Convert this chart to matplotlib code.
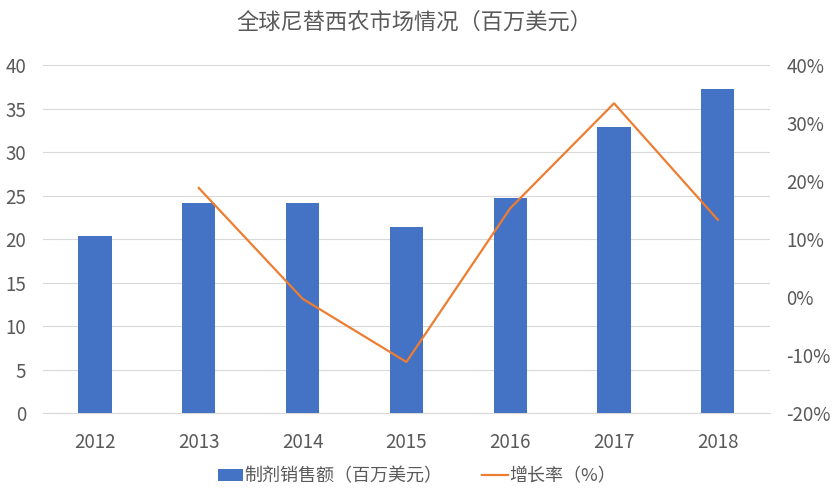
import matplotlib.pyplot as plt
from matplotlib.ticker import FuncFormatter

plt.rcParams['font.family'] = ['Noto Sans CJK SC', 'DejaVu Sans']

years = ['2012', '2013', '2014', '2015', '2016', '2017', '2018']
sales = [20.3, 24.1, 24.1, 21.4, 24.7, 32.9, 37.2]
growth_years = ['2013', '2014', '2015', '2016', '2017', '2018']
growth = [18.8, -0.3, -11.2, 15.3, 33.4, 13.3]

text_color = '#595959'
fig = plt.figure(figsize=(8.34, 4.99), dpi=100)
ax = fig.add_axes([0.0516, 0.1723, 0.8714, 0.6974])
ax2 = ax.twinx()

x = list(range(len(years)))
gx = [years.index(y) for y in growth_years]

b = ax.bar(x, sales, width=0.32, color='#4472C4', zorder=3, label='制剂销售额（百万美元）')
l, = ax2.plot(gx, growth, color='#ED7D31', linewidth=1.6, label='增长率（%）')

ax.set_xlim(-0.5, len(years) - 0.5)
ax.set_ylim(0, 40)
ax.set_yticks(range(0, 41, 5))
ax2.set_ylim(-20, 40)
ax2.set_yticks(range(-20, 41, 10))
ax2.yaxis.set_major_formatter(FuncFormatter(lambda v, p: f'{v:.0f}%'))

ax.set_xticks(x)
ax.set_xticklabels(years)
ax.grid(axis='y', color='#D9D9D9', linewidth=0.8, zorder=0)
for a in (ax, ax2):
    for s in a.spines.values():
        s.set_visible(False)
    a.tick_params(length=0, colors=text_color, labelsize=13.5)
ax.spines['bottom'].set_visible(True)
ax.spines['bottom'].set_color('#D9D9D9')
ax.tick_params(axis='x', pad=14)
ax.tick_params(axis='y', pad=12)
ax2.tick_params(axis='y', pad=12)

fig.suptitle('全球尼替西农市场情况（百万美元）', x=0.497, y=0.978, fontsize=16, color=text_color)
fig.legend(handles=[b, l], loc='lower center', bbox_to_anchor=(0.5, -0.005), ncol=2,
           frameon=False, fontsize=13, labelcolor=text_color, handlelength=1.4,
           handletextpad=0.1, columnspacing=2.2)

fig.savefig('out.png', dpi=100)
